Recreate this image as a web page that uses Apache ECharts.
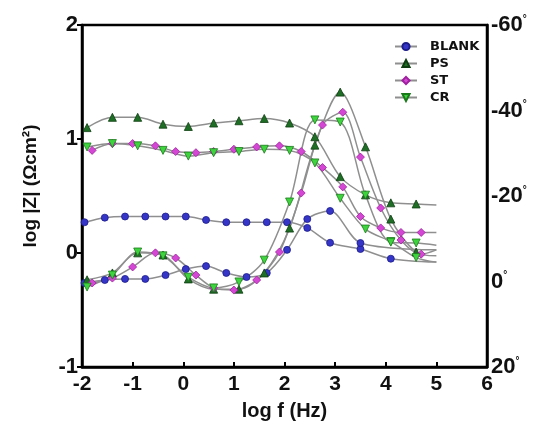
<!DOCTYPE html>
<html>
<head>
<meta charset="utf-8">
<script src="https://cdn.jsdelivr.net/npm/echarts@6/dist/echarts.min.js"></script>
<style>
html,body{margin:0;padding:0;background:#fff;}
#c{width:539px;height:429px;}
</style>
</head>
<body>
<div id="c"></div>
<script>
// ---- data ----
const xTicks = [-2, -1, 0, 1, 2, 3, 4, 5, 6];
const leftTicks = [-1, 0, 1, 2];
const rightTicks = [-60, -40, -20, 0, 20];

const blankX = [-1.95,-1.55,-1.15,-0.75,-0.35,0.05,0.45,0.85,1.25,1.65,2.05,2.45,2.9,3.5,4.1,5.0];
const blankMag = [0.27,0.31,0.32,0.32,0.32,0.32,0.29,0.27,0.27,0.27,0.27,0.22,0.09,0.035,-0.05,-0.08];
const blankPhX = [-1.95,-1.55,-1.15,-0.75,-0.35,0.05,0.45,0.85,1.25,1.65,2.05,2.45,2.9,3.5,5.0];
const blankPhase = [0.35,-0.35,-0.6,-0.6,-1.5,-2.9,-3.6,-2.0,-1.05,-2.0,-7.4,-14.6,-16.5,-9.0,-7.4];

const psX = [-1.9,-1.4,-0.9,-0.4,0.1,0.6,1.1,1.6,2.1,2.6,3.1,3.6,4.1,4.6,5.0];
const psMag = [1.10,1.19,1.19,1.13,1.11,1.14,1.16,1.18,1.14,1.02,0.67,0.51,0.44,0.43,0.42];
const psPhase = [-0.4,-2.0,-6.7,-6.2,-0.6,1.8,1.8,-2.0,-12.5,-31.9,-44.3,-31.5,-14.6,-6.9,-6.0];

const stX = [-1.8,-1.4,-1.0,-0.55,-0.15,0.25,0.6,1.0,1.45,1.9,2.33,2.75,3.15,3.5,3.9,4.3,4.7,5.0];
const stMag = [0.90,0.96,0.96,0.94,0.89,0.88,0.89,0.91,0.93,0.94,0.89,0.75,0.58,0.32,0.22,0.18,0.18,0.18];
const stPhase = [0.35,-0.8,-3.4,-6.7,-5.5,-1.5,1.5,2.0,-0.35,-6.9,-20.7,-36.6,-39.6,-29.1,-17.2,-9.7,-6.4,-7.4];

const crX = [-1.9,-1.4,-0.9,-0.4,0.1,0.6,1.1,1.6,2.1,2.6,3.1,3.6,4.1,4.6,5.0];
const crMag = [0.93,0.96,0.94,0.90,0.85,0.88,0.89,0.91,0.90,0.79,0.48,0.21,0.10,-0.04,-0.08];
const crPhase = [1.3,-1.5,-6.9,-6.0,-1.0,1.5,0.1,-5.0,-18.6,-37.8,-37.3,-20.2,-9.2,-9.0,-8.5];

const names = ['BLANK', 'PS', 'ST', 'CR'];

// ---- styles ----
const FONT = '"Liberation Sans", Arial, sans-serif';
const LINE = '#8f8f8f';
const styles = {
  BLANK: {symbol: 'circle', size: 7, rotate: 0, color: '#3535c8', border: '#1c1c8a'},
  PS: {symbol: 'triangle', size: 8, rotate: 0, color: '#1f6e25', border: '#0d3d10'},
  ST: {symbol: 'diamond', size: 8, rotate: 0, color: '#d447d4', border: '#a020a0'},
  CR: {symbol: 'triangle', size: 8, rotate: 180, color: '#3dd43d', border: '#1a7a1a'}
};

function pairs(xs, ys) {
  return xs.map((x, i) => {
    const item = {value: [x, ys[i]]};
    if (i === xs.length - 1) item.symbol = 'none';
    return item;
  });
}

function mk(name, xs, ys, axis) {
  const s = styles[name];
  return {
    name: name,
    type: 'line',
    yAxisIndex: axis,
    data: pairs(xs, ys),
    smooth: 0.3,
    symbol: s.symbol,
    symbolSize: s.size,
    symbolRotate: s.rotate,
    showAllSymbol: true,
    lineStyle: {color: LINE, width: 1.5},
    itemStyle: {color: s.color, borderColor: s.border, borderWidth: 0.8},
    emphasis: {disabled: true},
    animation: false
  };
}

const series = [
  mk('BLANK', blankX, blankMag, 0),
  mk('BLANK', blankPhX, blankPhase, 1),
  mk('PS', psX, psMag, 0),
  mk('PS', psX, psPhase, 1),
  mk('ST', stX, stMag, 0),
  mk('ST', stX, stPhase, 1),
  mk('CR', crX, crMag, 0),
  mk('CR', crX, crPhase, 1)
];

const chart = echarts.init(document.getElementById('c'));
chart.setOption({
  animation: false,
  backgroundColor: '#fff',
  grid: {left: 82, right: 52, top: 25, bottom: 62, containLabel: false, outerBoundsMode: 'none',
         show: true, borderColor: '#000', borderWidth: 2.5, backgroundColor: 'transparent'},
  legend: {
    data: names,
    orient: 'vertical',
    left: 389,
    top: 35,
    itemWidth: 22,
    itemHeight: 9,
    itemGap: 4,
    textStyle: {fontFamily: '"DejaVu Sans", sans-serif', fontWeight: 'bold', fontSize: 13, color: '#111', padding: [0, 0, 0, 8]}
  },
  xAxis: {
    type: 'value',
    min: xTicks[0],
    max: xTicks[xTicks.length - 1],
    interval: 1,
    name: 'log f (Hz)',
    nameLocation: 'middle',
    nameGap: 34,
    nameTextStyle: {fontFamily: FONT, fontWeight: 'bold', fontSize: 20, color: '#111'},
    axisLine: {onZero: false, lineStyle: {color: '#000', width: 2.5}},
    axisTick: {inside: true, length: 5, lineStyle: {color: '#000', width: 2}},
    axisLabel: {fontFamily: FONT, fontWeight: 'bold', fontSize: 21, color: '#111', margin: 7},
    splitLine: {show: false}
  },
  yAxis: [
    {
      type: 'value',
      min: leftTicks[0],
      max: leftTicks[leftTicks.length - 1],
      interval: 1,
      name: 'log |Z| (Ωcm²)',
      nameLocation: 'middle',
      nameGap: 42,
      nameRotate: 90,
      nameTextStyle: {fontFamily: FONT, fontWeight: 'bold', fontSize: 19, color: '#111', padding: [0, 0, 0, 20]},
      axisLine: {show: true, onZero: false, lineStyle: {color: '#000', width: 2.5}},
      axisTick: {show: true, length: 5, lineStyle: {color: '#000', width: 2}},
      axisLabel: {fontFamily: FONT, fontWeight: 'bold', fontSize: 22, color: '#111', margin: 4},
      splitLine: {show: false}
    },
    {
      type: 'value',
      position: 'right',
      inverse: true,
      min: rightTicks[0],
      max: rightTicks[rightTicks.length - 1],
      interval: 20,
      axisLine: {show: true, onZero: false, lineStyle: {color: '#000', width: 2.5}},
      axisTick: {show: false},
      axisLabel: {
        margin: 4,
        formatter: v => '{n|' + v + '}{d|°}',
        rich: {
          n: {fontFamily: FONT, fontWeight: 'bold', fontSize: 22, color: '#111'},
          d: {fontFamily: FONT, fontWeight: 'bold', fontSize: 10, color: '#111', verticalAlign: 'top'}
        }
      },
      splitLine: {show: false}
    }
  ],
  series: series
});
</script>
</body>
</html>
